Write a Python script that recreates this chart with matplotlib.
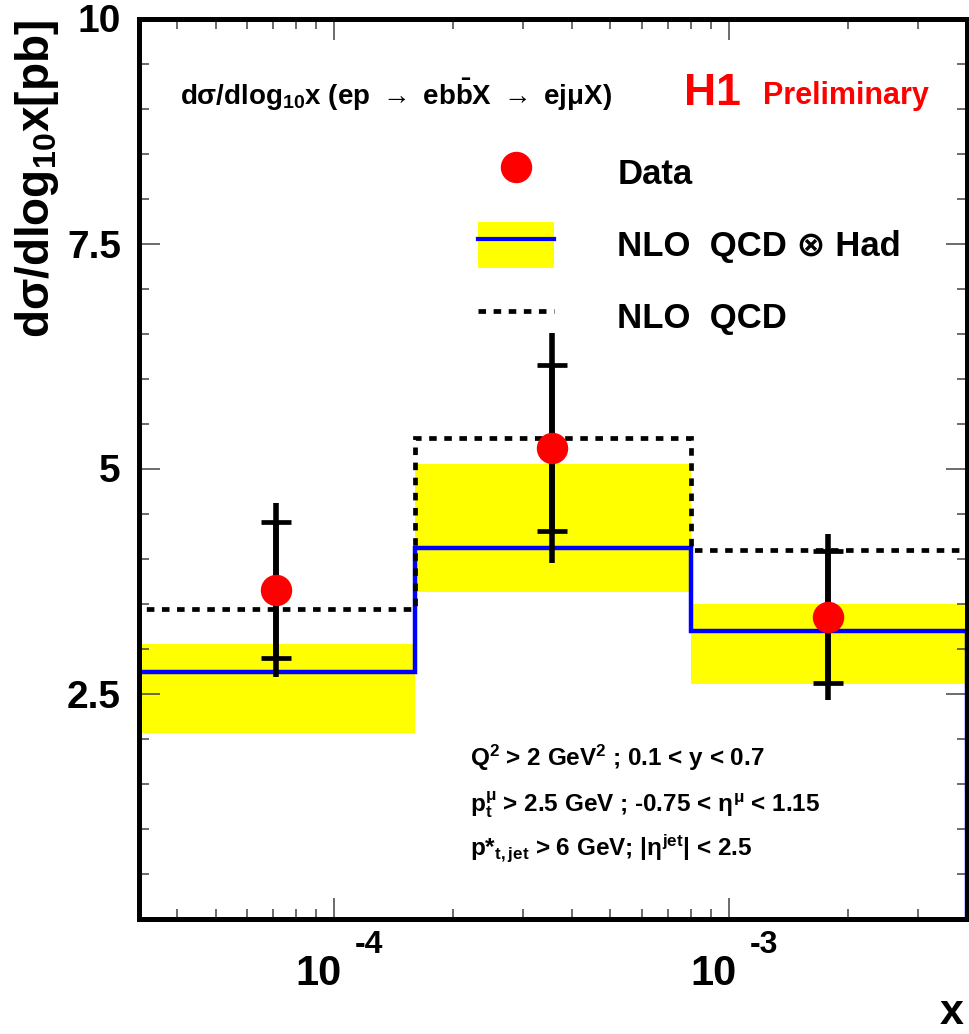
import matplotlib
matplotlib.use('Agg')
import matplotlib.pyplot as plt
from matplotlib.lines import Line2D
from matplotlib.patches import Patch
from matplotlib.ticker import MultipleLocator, NullFormatter

plt.rcParams['font.family'] = ['Liberation Sans', 'DejaVu Sans']
plt.rcParams['font.weight'] = 'bold'
plt.rcParams['mathtext.fontset'] = 'custom'
plt.rcParams['mathtext.rm'] = 'Liberation Sans:bold'
plt.rcParams['mathtext.it'] = 'Liberation Sans:bold'
plt.rcParams['mathtext.bf'] = 'Liberation Sans:bold'
plt.rcParams['mathtext.sf'] = 'Liberation Sans:bold'

# bins in x and cross sections (pb)
bin_edges = [3.2e-5, 1.6e-4, 8e-4, 4e-3]
x_data = [7.1e-5, 3.55e-4, 1.78e-3]
y_data = [3.65, 5.23, 3.35]
stat_err = [0.755, 0.92, 0.73]
tot_err = [0.97, 1.275, 0.92]
nlo_had = [2.74, 4.12, 3.20]
nlo_had_up = [3.05, 5.05, 3.49]
nlo_had_dn = [2.06, 3.63, 2.61]
nlo = [3.44, 5.34, 4.10]

y_ticks = [2.5, 5, 7.5, 10]
y_ticklabels = ['2.5', '5', '7.5', '10']
x_decades = [-4, -3]

W, H = 969, 1034
fig = plt.figure(figsize=(W / 100, H / 100), dpi=100)


def fx(px):
    return px / W


def fy(py):
    return 1 - py / H


ax = fig.add_axes([fx(139), fy(918.5), 828 / W, 900 / H])

# NLO QCD x Had band + central line, NLO QCD dashed
ax.stairs(nlo_had_up, bin_edges, baseline=nlo_had_dn, fill=True,
          facecolor='#ffff00', edgecolor='none', lw=0, zorder=1)
ax.stairs(nlo_had, bin_edges, baseline=0, edgecolor='#0000ff', lw=3.2,
          joinstyle='miter', zorder=2)
ax.stairs(nlo, bin_edges, baseline=0, edgecolor='black', lw=3.4,
          ls=(0, (1.6, 1.6)), joinstyle='miter', zorder=3)

# data: total error (line) and stat error (caps)
ax.errorbar(x_data, y_data, yerr=tot_err, fmt='none', ecolor='black',
            elinewidth=4, capsize=0, zorder=4)
ax.errorbar(x_data, y_data, yerr=stat_err, fmt='none', ecolor='black',
            elinewidth=4, capsize=10.8, capthick=3.4, zorder=4)
ax.plot(x_data, y_data, 'o', color='red', ms=21.6, zorder=5)

ax.set_xscale('log')
ax.set_xlim(bin_edges[0], bin_edges[-1])
ax.set_ylim(0, 10)
ax.set_yticks(y_ticks)
ax.set_yticklabels(y_ticklabels)
ax.yaxis.set_minor_locator(MultipleLocator(0.5))
ax.xaxis.set_minor_formatter(NullFormatter())

for s in ax.spines.values():
    s.set_linewidth(3.6)
ax.tick_params(which='both', direction='in', top=True, right=True,
               color='#444444', width=1.1)
ax.tick_params(which='major', length=15)
ax.tick_params(which='minor', length=7)
ax.tick_params(axis='x', labelbottom=False)
ax.tick_params(axis='y', labelsize=28, pad=13)

# x tick labels as 10^n
for e in x_decades:
    ax.annotate('10', xy=(10.0 ** e, 0), xycoords=('data', 'axes fraction'),
                xytext=(7 * 0.72, -66.5 * 0.72), textcoords='offset points',
                ha='right', va='baseline', fontsize=30)
    ax.annotate(str(e), xy=(10.0 ** e, 0), xycoords=('data', 'axes fraction'),
                xytext=(20 * 0.72, -34.5 * 0.72), textcoords='offset points',
                ha='left', va='baseline', fontsize=23)

fig.text(fx(37), fy(20), r'd$\sigma$/dlog$_{10}$x[pb]', rotation=90,
         ha='center', va='top', fontsize=33)
fig.text(fx(964), fy(1024), 'x', ha='right', va='baseline', fontsize=31)

fig.text(fx(180), fy(105), r'd$\sigma$/dlog$_{10}$x (ep $\rightarrow$ eb$\bar{\mathrm{b}}$X $\rightarrow$ ej$\mu$X)',
         ha='left', va='baseline', fontsize=20)
fig.text(fx(741), fy(105), 'H1', color='red', ha='right', va='baseline', fontsize=32)
fig.text(fx(763), fy(104), 'Preliminary', color='red', ha='left', va='baseline', fontsize=22)

notes = [r'Q$^2$ > 2 GeV$^2$ ; 0.1 < y < 0.7',
         r'p$_\mathrm{t}^{\mu}$ > 2.5 GeV ; -0.75 < $\eta^{\mu}$ < 1.15',
         r'p*$_\mathrm{t,jet}$ > 6 GeV; |$\eta^\mathrm{jet}$| < 2.5']
for i, t in enumerate(notes):
    fig.text(fx(470), fy(766 + 45 * i), t, ha='left', va='baseline', fontsize=17.5)

handles = [Line2D([], [], ls='none', marker='o', color='red', ms=21.6),
           (Patch(facecolor='#ffff00', edgecolor='none'),
            Line2D([], [], color='#0000ff', lw=3)),
           Line2D([], [], color='black', lw=3.4, ls=(0, (1.6, 1.6)))]
labels = ['Data', 'NLO  QCD \u2297 Had', 'NLO  QCD']
fig.legend(handles, labels, loc='upper left', bbox_to_anchor=(fx(478), fy(150)),
           frameon=False, fontsize=25, handlelength=2.19, handleheight=1.66,
           handletextpad=1.82, labelspacing=0.75, borderpad=0, borderaxespad=0)

fig.savefig('out.png', dpi=100)
